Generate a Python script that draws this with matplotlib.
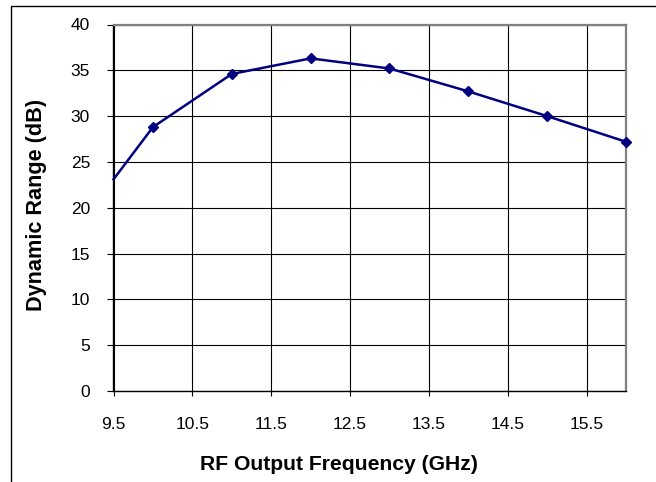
import matplotlib
matplotlib.use("Agg")
import matplotlib.pyplot as plt
from matplotlib.patches import Rectangle

freq = [9.5, 10, 11, 12, 13, 14, 15, 16]
dyn_range = [23.1, 28.8, 34.6, 36.3, 35.2, 32.7, 30.0, 27.2]
xticks = [9.5, 10.5, 11.5, 12.5, 13.5, 14.5, 15.5]
yticks = [0, 5, 10, 15, 20, 25, 30, 35, 40]

plt.rcParams['font.family'] = ['Liberation Sans', 'DejaVu Sans']

W, H = 656, 482
fig = plt.figure(figsize=(W/100, H/100), dpi=100)
ax = fig.add_axes([113.5/W, 1-391/H, (626-113.5)/W, (391-24.5)/H])

ax.plot(freq, dyn_range, color='#000080', lw=1.8, marker='D', ms=4.8,
        markevery=list(range(1, len(freq))), zorder=3, clip_on=False)

ax.set_xlim(9.5, 16)
ax.set_ylim(0, 40)
ax.set_xticks(xticks)
ax.set_yticks(yticks)
ax.set_xticklabels([str(t) for t in xticks])
ax.set_yticklabels([str(t) for t in yticks])
ax.grid(True, color='black', lw=0.8)
ax.set_axisbelow(True)
ax.tick_params(direction='out', width=0.8, labelsize=12.5, color='black')
ax.tick_params(axis='y', length=4.3, pad=12.6)
ax.tick_params(axis='x', length=3.6, pad=15.0)
for s in ['top', 'right']:
    ax.spines[s].set_color('#808080')
    ax.spines[s].set_linewidth(1.6)
for s in ['left', 'bottom']:
    ax.spines[s].set_color('black')
    ax.spines[s].set_linewidth(1.0)

fig.text(339/W, 1-470/H, 'RF Output Frequency (GHz)', fontsize=15.2, fontweight='bold',
         ha='center', va='baseline')
fig.text(37/W, 1-205/H, 'Dynamic Range (dB)', fontsize=15.6, fontweight='bold',
         ha='center', va='center', rotation=90)

fig.patches.append(Rectangle((11/W, -0.1), 1.2, 1 - 6/H + 0.1, transform=fig.transFigure,
                             fill=False, edgecolor='black', lw=1.0))

fig.savefig('out.png', dpi=100)
